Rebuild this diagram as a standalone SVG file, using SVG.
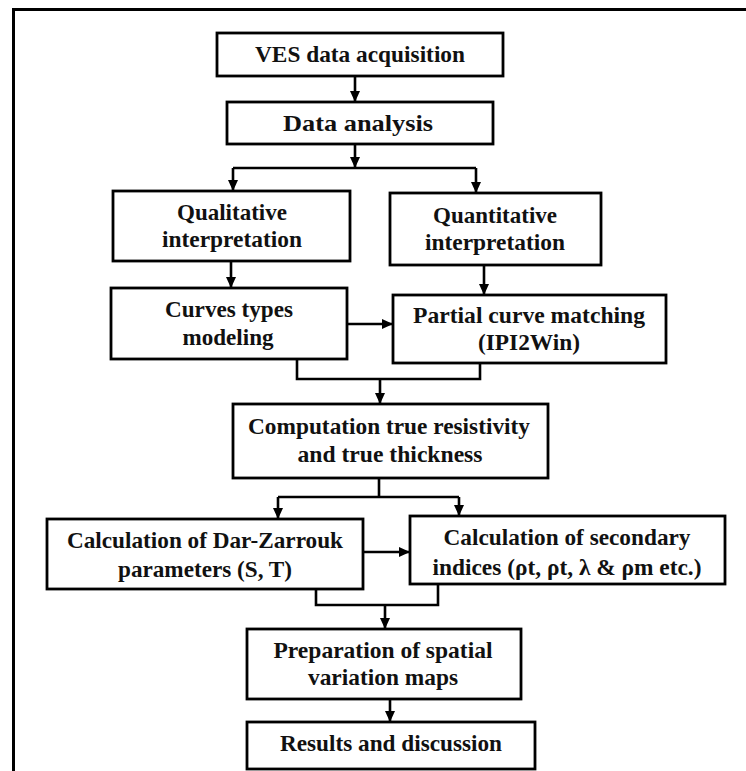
<svg xmlns="http://www.w3.org/2000/svg" width="746" height="771" viewBox="0 0 746 771">
<style>
.box{fill:#fff;stroke:#000;stroke-width:2.8}
.lbl{font-family:"Liberation Serif","Times New Roman",serif;font-weight:bold;font-size:23px;fill:#111;text-anchor:middle}
.con{fill:none;stroke:#000;stroke-width:2.6}
.arr{marker-end:url(#ah)}
</style>
<defs>
<marker id="ah" markerUnits="userSpaceOnUse" markerWidth="12" markerHeight="11" refX="11" refY="5" orient="auto">
<path d="M0,0 L11,5 L0,10 z" fill="#000"/>
</marker>
</defs>
<rect width="746" height="771" fill="#fff"/>
<g id="frame">
<path d="M13.5,771 L13.5,9.5 L746,9.5" fill="none" stroke="#000" stroke-width="3"/>
</g>
<g id="connectors">
<line class="con arr" x1="355" y1="76" x2="355" y2="102"/>
<line class="con arr" x1="355" y1="144" x2="355" y2="168"/>
<polyline class="con" points="233,168 476,168"/>
<line class="con arr" x1="233" y1="168" x2="233" y2="191"/>
<line class="con arr" x1="476" y1="168" x2="476" y2="193"/>
<line class="con arr" x1="231" y1="261" x2="231" y2="288"/>
<line class="con arr" x1="484" y1="265" x2="484" y2="295"/>
<line class="con arr" x1="347" y1="324" x2="393" y2="324"/>
<polyline class="con" points="297,359 297,379 480,379 480,363"/>
<line class="con arr" x1="380" y1="379" x2="380" y2="404"/>
<line class="con" x1="379" y1="478" x2="379" y2="497"/>
<polyline class="con" points="278,497 459,497"/>
<line class="con arr" x1="278" y1="497" x2="278" y2="519"/>
<line class="con arr" x1="459" y1="497" x2="459" y2="516"/>
<line class="con arr" x1="363" y1="552" x2="410" y2="552"/>
<polyline class="con" points="316,589 316,605 438,605 438,584"/>
<line class="con arr" x1="385" y1="605" x2="385" y2="629"/>
<line class="con arr" x1="390" y1="699" x2="390" y2="722"/>
</g>
<g id="ves">
<rect class="box" x="217" y="33" width="286" height="43"/>
<text class="lbl" x="360" y="62" textLength="210" lengthAdjust="spacingAndGlyphs">VES data acquisition</text>
</g>
<g id="data-analysis">
<rect class="box" x="227" y="102" width="266" height="42"/>
<text class="lbl" x="358" y="131" textLength="150" lengthAdjust="spacingAndGlyphs">Data analysis</text>
</g>
<g id="qualitative">
<rect class="box" x="113" y="191" width="237" height="70"/>
<text class="lbl" x="232" y="220" textLength="110" lengthAdjust="spacingAndGlyphs">Qualitative</text>
<text class="lbl" x="232" y="247" textLength="140" lengthAdjust="spacingAndGlyphs">interpretation</text>
</g>
<g id="quantitative">
<rect class="box" x="390" y="193" width="211" height="72"/>
<text class="lbl" x="495" y="223" textLength="124" lengthAdjust="spacingAndGlyphs">Quantitative</text>
<text class="lbl" x="495" y="250" textLength="140" lengthAdjust="spacingAndGlyphs">interpretation</text>
</g>
<g id="curves">
<rect class="box" x="111" y="288" width="236" height="71"/>
<text class="lbl" x="229" y="317" textLength="128" lengthAdjust="spacingAndGlyphs">Curves types</text>
<text class="lbl" x="228" y="345" textLength="91" lengthAdjust="spacingAndGlyphs">modeling</text>
</g>
<g id="partial">
<rect class="box" x="393" y="295" width="273" height="68"/>
<text class="lbl" x="529" y="323" textLength="232" lengthAdjust="spacingAndGlyphs">Partial curve matching</text>
<text class="lbl" x="529" y="350" textLength="102" lengthAdjust="spacingAndGlyphs">(IPI2Win)</text>
</g>
<g id="computation">
<rect class="box" x="233" y="404" width="315" height="74"/>
<text class="lbl" x="389" y="434" textLength="282" lengthAdjust="spacingAndGlyphs">Computation true resistivity</text>
<text class="lbl" x="390" y="462" textLength="185" lengthAdjust="spacingAndGlyphs">and true thickness</text>
</g>
<g id="dar-zarrouk">
<rect class="box" x="47" y="519" width="316" height="70"/>
<text class="lbl" x="205" y="548" textLength="276" lengthAdjust="spacingAndGlyphs">Calculation of Dar-Zarrouk</text>
<text class="lbl" x="205" y="577" textLength="174" lengthAdjust="spacingAndGlyphs">parameters (S, T)</text>
</g>
<g id="secondary">
<rect class="box" x="410" y="516" width="315" height="68"/>
<text class="lbl" x="567" y="545" textLength="247" lengthAdjust="spacingAndGlyphs">Calculation of secondary</text>
<text class="lbl" x="567" y="575" textLength="269" lengthAdjust="spacingAndGlyphs">indices (ρt, ρt, λ &amp; ρm etc.)</text>
</g>
<g id="preparation">
<rect class="box" x="247" y="629" width="274" height="70"/>
<text class="lbl" x="383" y="658" textLength="219" lengthAdjust="spacingAndGlyphs">Preparation of spatial</text>
<text class="lbl" x="383" y="685" textLength="150" lengthAdjust="spacingAndGlyphs">variation maps</text>
</g>
<g id="results">
<rect class="box" x="247" y="722" width="288" height="47"/>
<text class="lbl" x="391" y="751" textLength="222" lengthAdjust="spacingAndGlyphs">Results and discussion</text>
</g>
</svg>
